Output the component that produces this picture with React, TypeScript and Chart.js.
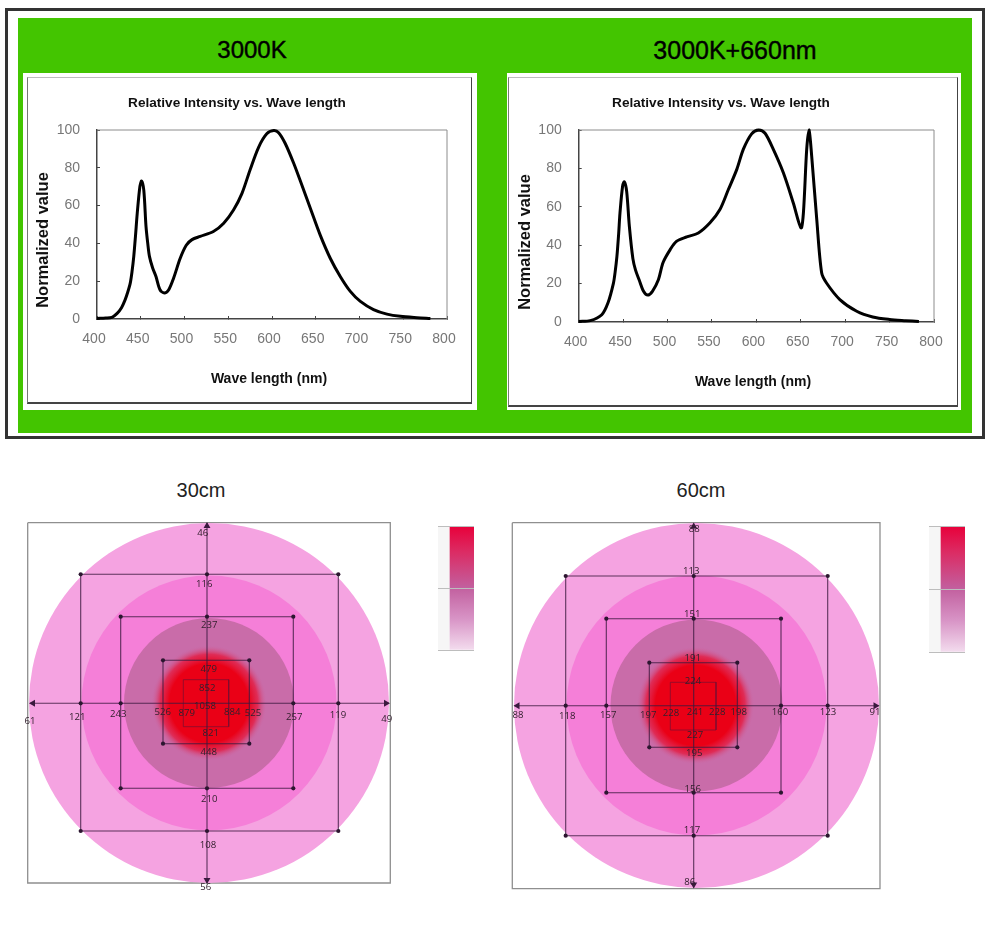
import React, { useEffect, useRef } from "react";
import { Chart, registerables } from "chart.js";

Chart.register(...registerables);

// ---------- spectra ----------
const wave3000 = [400,410,417,423,428,432,435,438,440,442,444,446,449,451,453.5,456,458,460,463.6,467.4,472,477,482,487.6,495,502,508.6,518,533,544.8,556,565.7,575,584.8,594,602,607.6,615,624.8,634,643.8,655,666.7,678,689.5,701,716,731.4,746.7,765.7,781];
const value3000 = [0.3,0.5,0.9,3,6,10,14,19,25,33,44,56,70,73,68,49,40,33,27,22.5,15.5,13.7,15.5,21.7,32,39,42,43.7,46.3,50.7,57.7,66.5,79,91,98,99.7,98.6,93,82.4,71,58.6,44.5,32,22.5,14.6,9.3,5,2.6,1.4,0.7,0.3];
const wave660 = [400,413,426,433,439,441,443,445,446.5,449.5,451.4,454,457,461,464,468,473,477.7,483,489.7,495,503,510,521.6,534.7,547.8,559,568.5,578,585.4,594.7,602.6,609.8,619,630.4,641.6,650.3,653,656.7,659.3,662.3,668,673.5,679,694,713,731,750,768,783];
const value660 = [0.3,0.7,3.8,10,20,26,34,46,57,71,73,68,50,33,27,22,16,14,16,22,31,37.7,42,44.3,46.4,51.7,58.6,69,79.5,90,98,100,98.3,90,77.7,62,49,57,90,100,86.4,53.4,25.6,20.3,11.7,5.6,2.6,1.3,0.7,0.3];
const xTicks = [400, 800];
const yTicks = [0, 100];

// ---------- irradiance maps (offsets from the lamp centre, y up) ----------
type MapData = {
  box: number[]; // left, right, top, bottom
  cross: number[]; // cross x, cross y, arm left, arm right, arm top, arm bottom
  rings: number[];
  hot: number[]; // x, y, radius
  squares: number[][]; // left, right, top, bottom
  values: string[];
  valueX: number[];
  valueY: number[];
};

const box30 = [-181.3, 181.3, 180.3, -180];
const cross30 = [-2, -0.3, -179, 180, 180, -180];
const rings30 = [180, 127.5, 85];
const hot30 = [0, 0, 58];
const squares30 = [
  [-128.3, 129.3, 128.7, -128],
  [-88.3, 84.3, 86.3, -85.3],
  [-46, 40.3, 42.7, -40.7],
  [-25.7, 19.7, 23.3, -23.7],
];
const values30 = ["46","116","237","479","852","1058","821","448","210","108","56","61","121","243","526","879","884","525","257","119","49"];
const valueX30 = [-6.3,-4.7,0.3,-0.3,-1.7,-4,1.7,-0.3,0.3,-1,-3.3,-179,-131.7,-90.7,-46.3,-22.3,23.3,44,85.3,129,177.7];
const valueY30 = [169.7,118.7,77.7,34,14.7,-3.7,-30.3,-49.7,-96.7,-142.7,-184.7,-18.7,-14,-11,-9.7,-10.3,-9.7,-10.3,-14.7,-12.7,-16.3];

const box60 = [-184.2, 183.5, 182.8, -183.2];
const cross60 = [-2.8, -0.2, -182, 182, 182, -182];
const rings60 = [182.5, 130, 86];
const hot60 = [-1, 0, 59];
const squares60 = [
  [-130.8, 131.2, 129.5, -130.2],
  [-90.2, 84.5, 86.8, -87.2],
  [-47.2, 40.8, 42.8, -41.8],
  [-26.2, 19.5, 23.2, -24.5],
];
const values60 = ["88","113","151","191","224","241","227","195","156","117","86","88","118","157","197","228","228","198","160","123","91"];
const valueX60 = [-2.2,-5.2,-4.2,-3.8,-3.5,-1.5,-1.5,-2.2,-3.8,-4.5,-6.8,-178.5,-129.2,-88.2,-48.2,-25.5,20.8,42.2,83.5,131.5,178.5];
const valueY60 = [176.2,134.2,91.2,47.2,24.5,-6.8,-30.2,-47.8,-84.2,-125.2,-176.5,-9.5,-11.2,-9.8,-9.8,-7.5,-6.5,-6.5,-6.8,-6.5,-6.8];

// ---------- colour scale ----------
const barCategories = ["gap", "scaleA", "scaleB"];
const barValues = [100, 100, 100];

const SANS = '"Liberation Sans", Arial, sans-serif';

function lineStyle(pts: { x: number; y: number }[], color: string, width: number) {
  return { data: pts, showLine: true, borderColor: color, borderWidth: width, pointRadius: 0, tension: 0, clip: false as const };
}

function makeSpectrum(
  canvas: HTMLCanvasElement,
  wave: number[],
  value: number[],
  layout: { yWidth: number; xHeight: number; right: number; xCaption: number[]; yCaption: number[]; labelGap: number; tickGapY: number }
) {
  const frame = {
    id: "plotFrame",
    beforeDatasetsDraw(chart: any) {
      const { left, right, top, bottom } = chart.chartArea;
      const c = chart.ctx;
      c.save();
      c.strokeStyle = "#8c8c8c";
      c.lineWidth = 1;
      c.beginPath();
      c.moveTo(left, top);
      c.lineTo(right, top);
      c.lineTo(right, bottom);
      c.stroke();
      c.restore();
    },
  };
  const captions = {
    id: "captions",
    afterDraw(chart: any) {
      const c = chart.ctx;
      c.save();
      c.fillStyle = "#111";
      c.font = `bold 14px ${SANS}`;
      c.textAlign = "center";
      c.textBaseline = "middle";
      c.fillText("Wave length (nm)", layout.xCaption[0], layout.xCaption[1]);
      c.font = `bold 16.5px ${SANS}`;
      c.translate(layout.yCaption[0], layout.yCaption[1]);
      c.rotate(-Math.PI / 2);
      c.fillText("Normalized value", 0, 0);
      c.restore();
    },
  };
  return new Chart(canvas, {
    type: "scatter",
    data: {
      datasets: [
        {
          data: wave.map((x, i) => ({ x, y: value[i] })),
          showLine: true,
          borderColor: "#000",
          borderWidth: 3,
          pointRadius: 0,
          tension: 0.3,
          clip: false,
        } as any,
      ],
    },
    plugins: [frame, captions],
    options: {
      animation: false,
      responsive: false,
      layout: { autoPadding: false, padding: { left: 0, top: 0, bottom: 0, right: layout.right } },
      plugins: {
        legend: { display: false },
        tooltip: { enabled: false },
        title: {
          display: true,
          text: "Relative Intensity vs. Wave length",
          color: "#111",
          font: { family: SANS, size: 13.6, weight: "bold", lineHeight: 1 },
          padding: { top: 19.2, bottom: 20.2 },
        },
      },
      scales: {
        x: {
          type: "linear",
          min: xTicks[0],
          max: xTicks[1],
          afterFit: (s: any) => { s.height = layout.xHeight; },
          border: { color: "#444", width: 1.5 },
          grid: { drawOnChartArea: false, tickLength: -3, color: "#444" },
          ticks: { stepSize: 50, color: "#777", padding: layout.labelGap, labelOffset: -3, maxRotation: 0, font: { family: SANS, size: 14 } },
        },
        y: {
          type: "linear",
          min: yTicks[0],
          max: yTicks[1],
          afterFit: (s: any) => { s.width = layout.yWidth; },
          border: { color: "#444", width: 1.5 },
          grid: { drawOnChartArea: false, tickLength: -3, color: "#444" },
          ticks: { stepSize: 20, color: "#777", padding: layout.tickGapY, font: { family: SANS, size: 14 } },
        },
      },
    } as any,
  });
}

function squarePts(s: number[]) {
  const [l, r, t, b] = s;
  return [{ x: l, y: t }, { x: r, y: t }, { x: r, y: b }, { x: l, y: b }, { x: l, y: t }];
}

function makeMap(canvas: HTMLCanvasElement, d: MapData, padding: { left: number; right: number; top: number; bottom: number }) {
  const [cx, cy, armL, armR, armT, armB] = d.cross;
  const INK = "rgba(58,26,62,0.82)";
  const radiusPx = (c: any, r: number) => {
    const v = c.chart.scales.x.getPixelForValue(r) - c.chart.scales.x.getPixelForValue(0);
    return Number.isFinite(v) ? v : 0;
  };

  const dots: { x: number; y: number }[] = [];
  d.squares.slice(0, 3).forEach((s, i) => {
    const [l, r, t, b] = s;
    dots.push({ x: l, y: t }, { x: r, y: t }, { x: r, y: b }, { x: l, y: b });
    if (i < 2) dots.push({ x: cx, y: t }, { x: cx, y: b }, { x: l, y: cy }, { x: r, y: cy });
  });

  const ring = (r: number, color: any) => ({
    data: [{ x: 0, y: 0 }],
    pointRadius: (c: any) => radiusPx(c, r),
    pointBackgroundColor: color,
    pointBorderWidth: 0,
    clip: false as const,
  });

  const hotFill = (c: any) => {
    const x = c.chart.scales.x.getPixelForValue(d.hot[0]);
    const y = c.chart.scales.y.getPixelForValue(d.hot[1]);
    const rr = radiusPx(c, d.hot[2]);
    if (!Number.isFinite(x) || !Number.isFinite(y) || rr <= 0) return "#ea0016";
    const g = c.chart.ctx.createRadialGradient(x, y, 0, x, y, rr);
    g.addColorStop(0, "#ea0016");
    g.addColorStop(0.68, "#ea0016");
    g.addColorStop(0.84, "rgba(228,28,66,0.8)");
    g.addColorStop(1, "rgba(201,108,169,0)");
    return g;
  };

  const labelPlugin = {
    id: "valueLabels",
    afterDatasetsDraw(chart: any) {
      const c = chart.ctx;
      c.save();
      c.fillStyle = "#33202e";
      c.font = `9.6px "Open Sans", sans-serif`;
      c.textAlign = "center";
      c.textBaseline = "middle";
      d.values.forEach((t, i) => {
        c.fillText(t, chart.scales.x.getPixelForValue(d.valueX[i]), chart.scales.y.getPixelForValue(d.valueY[i]));
      });
      c.restore();
    },
  };

  const datasets: any[] = [
    {
      data: [
        { x: cx, y: armT - 3 },
        { x: cx, y: armB + 3 },
        { x: armL + 3, y: cy },
        { x: armR - 3, y: cy },
      ],
      pointStyle: "triangle",
      pointRadius: 4,
      pointRotation: [0, 180, 270, 90],
      pointBackgroundColor: "#3a1a3e",
      pointBorderWidth: 0,
      clip: false,
    },
    { data: dots, pointRadius: 2.1, pointBackgroundColor: "#2c1630", pointBorderWidth: 0, clip: false },
    lineStyle([{ x: cx, y: armT }, { x: cx, y: armB }], INK, 1.1),
    lineStyle([{ x: armL, y: cy }, { x: armR, y: cy }], INK, 1.1),
    lineStyle(squarePts(d.squares[0]), INK, 1.1),
    lineStyle(squarePts(d.squares[1]), INK, 1.1),
    lineStyle(squarePts(d.squares[2]), INK, 1.1),
    lineStyle(squarePts(d.squares[3]), "rgba(120,16,50,0.8)", 0.9),
    {
      data: [{ x: d.hot[0], y: d.hot[1] }],
      pointRadius: (c: any) => radiusPx(c, d.hot[2]),
      pointBackgroundColor: hotFill,
      pointBorderWidth: 0,
      clip: false,
    },
    ring(d.rings[2], "#c96ca9"),
    ring(d.rings[1], "#f57fd8"),
    ring(d.rings[0], "#f5a3e1"),
    lineStyle(squarePts(d.box), "#8f8f8f", 1.3),
  ];

  return new Chart(canvas, {
    type: "scatter",
    data: { datasets },
    plugins: [labelPlugin],
    options: {
      animation: false,
      responsive: false,
      layout: { autoPadding: false, padding },
      plugins: { legend: { display: false }, tooltip: { enabled: false } },
      scales: {
        x: { type: "linear", display: false, min: d.box[0], max: d.box[1] },
        y: { type: "linear", display: false, min: d.box[3], max: d.box[2] },
      },
    } as any,
  });
}

function makeColorBar(canvas: HTMLCanvasElement) {
  const fill = (c: any) => {
    if (c.dataIndex === 0) return "#f6f6f6";
    const area = c.chart.chartArea;
    if (!area) return "#c8609f";
    const g = c.chart.ctx.createLinearGradient(0, area.top, 0, area.bottom);
    g.addColorStop(0, "#e8003a");
    g.addColorStop(0.2, "#dc2a62");
    g.addColorStop(0.5, "#c2609f");
    g.addColorStop(0.75, "#d894c6");
    g.addColorStop(1, "#f3dcee");
    return g;
  };
  return new Chart(canvas, {
    type: "bar",
    data: {
      labels: barCategories,
      datasets: [{ data: barValues, backgroundColor: fill, barPercentage: 1, categoryPercentage: 1, borderWidth: 0 }],
    },
    options: {
      animation: false,
      responsive: false,
      layout: { padding: { top: 1, bottom: 1 } },
      plugins: { legend: { display: false }, tooltip: { enabled: false } },
      scales: {
        x: { display: false },
        y: {
          min: 0,
          max: 100,
          afterFit: (s: any) => { s.width = 0; },
          border: { display: false },
          grid: { color: "#bdbdbd", z: 1, drawTicks: false },
          ticks: { display: false, stepSize: 50 },
        },
      },
    } as any,
  });
}

const heading = (text: string, cx: number, cy: number, size: number, stroke: number, color: string) => (
  <div
    style={{
      position: "absolute",
      left: cx - 150,
      top: cy - 20,
      width: 300,
      height: 40,
      lineHeight: "40px",
      textAlign: "center",
      fontFamily: SANS,
      fontSize: size,
      color,
      WebkitTextStroke: stroke ? `${stroke}px ${color}` : undefined,
    }}
  >
    {text}
  </div>
);

const abs = (left: number, top: number, width: number, height: number) =>
  ({ position: "absolute", left, top, width, height, display: "block" } as React.CSSProperties);

export default function App() {
  const specA = useRef<HTMLCanvasElement>(null);
  const specB = useRef<HTMLCanvasElement>(null);
  const mapA = useRef<HTMLCanvasElement>(null);
  const mapB = useRef<HTMLCanvasElement>(null);
  const barA = useRef<HTMLCanvasElement>(null);
  const barB = useRef<HTMLCanvasElement>(null);

  useEffect(() => {
    const charts = [
      makeSpectrum(specA.current!, wave3000, value3000, {
        yWidth: 70, xHeight: 84, right: 32, xCaption: [242, 302], yCaption: [16, 163], labelGap: 15, tickGapY: 20,
      }),
      makeSpectrum(specB.current!, wave660, value660, {
        yWidth: 70.7, xHeight: 85, right: 34, xCaption: [245, 305], yCaption: [17, 165], labelGap: 15, tickGapY: 20,
      }),
      makeMap(mapA.current!, { box: box30, cross: cross30, rings: rings30, hot: hot30, squares: squares30, values: values30, valueX: valueX30, valueY: valueY30 }, { left: 9.7, right: 9.7, top: 9.7, bottom: 10 }),
      makeMap(mapB.current!, { box: box60, cross: cross60, rings: rings60, hot: hot60, squares: squares60, values: values60, valueX: valueX60, valueY: valueY60 }, { left: 10.3, right: 10, top: 9.7, bottom: 10.3 }),
      makeColorBar(barA.current!),
      makeColorBar(barB.current!),
    ];
    return () => charts.forEach((c) => c.destroy());
  }, []);

  const panelInner = (left: number, top: number, width: number, height: number): React.CSSProperties => ({
    position: "absolute",
    left,
    top,
    width,
    height,
    boxSizing: "border-box",
    borderTop: "1px solid #bdbdbd",
    borderLeft: "1px solid #777",
    borderRight: "1.5px solid #444",
    borderBottom: "2px solid #444",
  });

  return (
    <div style={{ position: "absolute", left: 0, top: 0, width: 1000, height: 936, background: "#fff", overflow: "hidden" }}>
      <div style={{ position: "absolute", left: 5, top: 8, width: 980, height: 431, boxSizing: "border-box", border: "3px solid #333" }} />
      <div style={{ position: "absolute", left: 18, top: 18, width: 954, height: 415, background: "#43c500" }} />
      <div style={{ position: "absolute", left: 23, top: 73, width: 454, height: 337, background: "#fff" }} />
      <div style={{ position: "absolute", left: 507, top: 73, width: 454, height: 337, background: "#fff" }} />
      <div style={panelInner(27, 77, 444.5, 326.5)} />
      <div style={panelInner(508, 77, 450, 330)} />
      {heading("3000K", 252, 50, 24, 0.4, "#000")}
      {heading("3000K+660nm", 735, 50, 25, 0.4, "#000")}
      {heading("30cm", 201, 490, 20, 0, "#222")}
      {heading("60cm", 701, 490, 20, 0, "#222")}
      <canvas ref={specA} width={452} height={326} style={abs(27, 77, 452, 326)} />
      <canvas ref={specB} width={460} height={330} style={abs(508, 77, 460, 330)} />
      <canvas ref={mapA} width={382} height={380} style={abs(18, 513, 382, 380)} />
      <canvas ref={mapB} width={388} height={386} style={abs(502, 513, 388, 386)} />
      <canvas ref={barA} width={36} height={126} style={abs(438, 525, 36, 126)} />
      <canvas ref={barB} width={36} height={128} style={abs(929, 525, 36, 128)} />
    </div>
  );
}
